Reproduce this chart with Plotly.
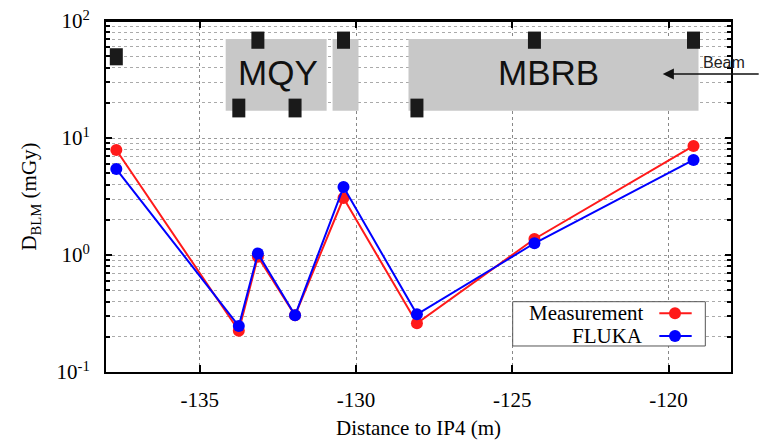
import plotly.graph_objects as go

# ---- data ----
distance = [-137.67, -133.75, -133.14, -131.95, -130.40, -128.05, -124.29, -119.20]
measurement = [7.9, 0.225, 0.967, 0.305, 3.07, 0.261, 1.37, 8.55]
fluka = [5.43, 0.247, 1.03, 0.305, 3.81, 0.311, 1.26, 6.49]

x_ticks = [-135, -130, -125, -120]
y_ticks = [0.1, 1, 10, 100]
y_ticktext = ["10<sup>-1</sup>", "10<sup>0</sup>", "10<sup>1</sup>", "10<sup>2</sup>"]

magnet_names = ["MQY", "", "MBRB"]
magnet_start = [-134.17, -130.75, -128.32]
magnet_end = [-130.94, -129.92, -119.04]
magnet_ylow, magnet_yhigh = 17.1, 70.2

blm_level = ["mid", "low", "high", "low", "high", "low", "high", "high"]
blm_ranges = {"high": (57.9, 81.2), "low": (15.0, 21.7), "mid": (41.8, 58.5)}

RED = "#ff1a1a"
BLUE = "#0000ff"
SERIF = "Liberation Serif"
SANS = "Liberation Sans"

fig = go.Figure()
fig.add_trace(go.Scatter(x=distance, y=measurement, mode="lines+markers", name="Measurement",
                         line=dict(color=RED, width=2), marker=dict(color=RED, size=12),
                         showlegend=False))
fig.add_trace(go.Scatter(x=distance, y=fluka, mode="lines+markers", name="FLUKA",
                         line=dict(color=BLUE, width=2), marker=dict(color=BLUE, size=12),
                         showlegend=False))

shapes = []
annotations = []
# magnets
for name, a, b in zip(magnet_names, magnet_start, magnet_end):
    shapes.append(dict(type="rect", xref="x", yref="y", x0=a, x1=b, y0=magnet_ylow, y1=magnet_yhigh,
                       fillcolor="#c8c8c8", line=dict(width=0), layer="above"))
# BLM squares
for xpos, lvl in zip(distance, blm_level):
    y0, y1 = blm_ranges[lvl]
    shapes.append(dict(type="rect", xref="x", yref="y", xsizemode="pixel", xanchor=xpos,
                       x0=-6.5, x1=6.5, y0=y0, y1=y1,
                       fillcolor="#1a1a1a", line=dict(width=0), layer="above"))
# top frame line (safety)
shapes.append(dict(type="line", xref="paper", yref="paper", x0=0, x1=1, y0=1, y1=1,
                   line=dict(color="black", width=2), layer="above"))

annotations.append(dict(text="MQY", xref="paper", yref="paper", x=0.2752, y=0.853,
                        xanchor="center", yanchor="middle",
                        showarrow=False, font=dict(family=SANS, size=35, color="#111")))
annotations.append(dict(text="MBRB", xref="paper", yref="paper", x=0.7072, y=0.853,
                        xanchor="center", yanchor="middle",
                        showarrow=False, font=dict(family=SANS, size=35, color="#111")))
annotations.append(dict(text="Beam", xref="paper", yref="paper", x=0.9883, y=0.8823,
                        xanchor="center", yanchor="middle",
                        showarrow=False, font=dict(family=SANS, size=16, color="#222")))
annotations.append(dict(text=" ", xref="paper", yref="paper", x=0.8907, y=0.849,
                        ax=100, ay=0, showarrow=True, arrowhead=2, arrowsize=1.4,
                        arrowwidth=1.6, arrowcolor="#111"))

# custom legend (symbol on the right)
lx0, lx1, ly0, ly1 = 0.6507, 0.9589, 0.0741, 0.2003
shapes.append(dict(type="rect", xref="paper", yref="paper", x0=lx0, x1=lx1, y0=ly0, y1=ly1,
                   fillcolor="white", line=dict(color="#555", width=1), layer="above"))
for label, col, yy in [("Measurement", RED, 0.1672), ("FLUKA", BLUE, 0.1026)]:
    shapes.append(dict(type="line", xref="paper", yref="paper", x0=0.8853, x1=0.9371, y0=yy, y1=yy,
                       line=dict(color=col, width=2), layer="above"))
    shapes.append(dict(type="circle", xref="paper", yref="paper", xsizemode="pixel", ysizemode="pixel",
                       xanchor=0.9104, yanchor=yy, x0=-6, x1=6, y0=-6, y1=6,
                       fillcolor=col, line=dict(width=0), layer="above"))
    annotations.append(dict(text=label, xref="paper", yref="paper", x=0.8624, y=yy,
                            xanchor="right", yanchor="middle", showarrow=False,
                            font=dict(family=SERIF, size=21, color="black")))

fig.update_layout(
    width=763, height=440,
    margin=dict(l=106, r=32, t=21, b=68, autoexpand=False),
    paper_bgcolor="white", plot_bgcolor="white",
    shapes=shapes, annotations=annotations,
    font=dict(family=SERIF, size=21, color="black"),
    xaxis=dict(range=[-138, -118], tickvals=x_ticks, ticktext=[str(v) for v in x_ticks],
               automargin=False,
               showline=True, linecolor="black", linewidth=2, mirror="ticks",
               ticks="inside", ticklen=7, tickcolor="black", tickwidth=1.5,
               showgrid=True, gridcolor="#888", griddash="dot", gridwidth=1,
               zeroline=False, ticklabelstandoff=8,
               title=dict(text="Distance to IP4 (m)", standoff=14,
                          font=dict(family=SERIF, size=21))),
    yaxis=dict(type="log", range=[-1, 2], tickvals=y_ticks, ticktext=y_ticktext,
               automargin=False,
               showline=True, linecolor="black", linewidth=2, mirror="ticks",
               ticks="inside", ticklen=6, tickcolor="black", tickwidth=1.5,
               showgrid=True, gridcolor="#999", griddash="dot", gridwidth=1,
               minor=dict(dtick="D1", ticks="inside", ticklen=4, tickcolor="black",
                          showgrid=True, gridcolor="#aaa", griddash="dot", gridwidth=1),
               zeroline=False, ticklabelstandoff=10,
               title=dict(text="D<sub>BLM</sub> (mGy)", standoff=14,
                          font=dict(family=SERIF, size=21))),
)

fig.write_html("out.html", config={"displayModeBar": False},
               post_script="document.body.style.margin='0';document.body.style.overflow='hidden';")
